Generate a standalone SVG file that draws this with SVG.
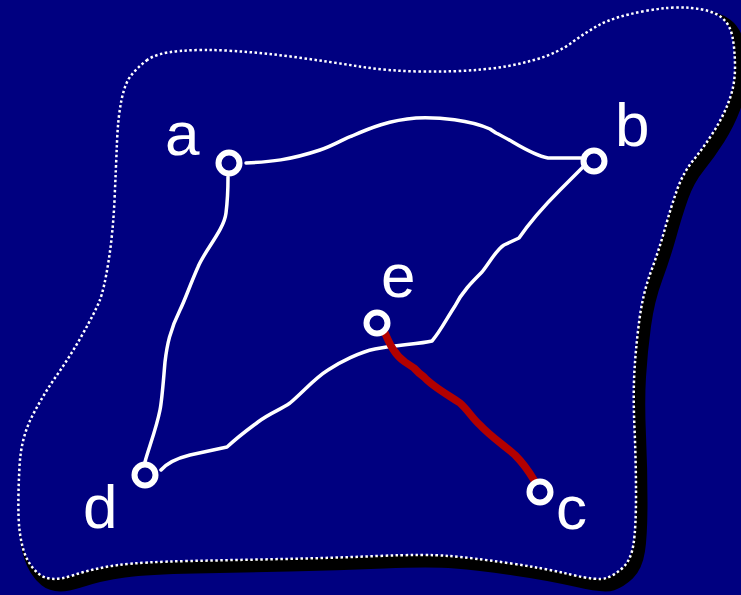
<svg xmlns="http://www.w3.org/2000/svg" width="741" height="595" viewBox="0 0 741 595">
<defs>
<style>
.bg{fill:#000080}
.blob{fill:#000080;stroke:#fff;stroke-width:2.5;stroke-dasharray:2.5 2.5}
.shadow{fill:#000;stroke:#000;stroke-width:11;stroke-linejoin:round}
.edge{fill:none;stroke:#fff;stroke-width:3.5;stroke-linecap:round;stroke-linejoin:round}
.red{fill:none;stroke:#b20000;stroke-width:7.5;stroke-linecap:round;stroke-linejoin:round}
.node{fill:#000080;stroke:#fff;stroke-width:6}
.lbl{font-family:"Liberation Sans",Arial,sans-serif;font-size:62px;fill:#fff}
</style>
<path id="blobpath" d="M146.5,60.5 Q156,53 179.5,51 Q203,49 234,51 Q265,53 298,57.5 Q331,62 359.5,66.5 Q388,71 421,71.5 Q454,72 482,69.5 Q510,67 534,60 Q558,53 572,42.5 Q586,32 600,24.5 Q614,17 642.5,11.5 Q671,6 691.5,8 Q712,10 721,17 Q730,24 732.5,37 Q735,50 735,67.5 Q735,85 729,101 Q723,117 713.5,132 Q704,147 693.5,160 Q683,173 677,190 Q671,207 665,228.5 Q659,250 651,271.5 Q643,293 639.5,319 Q636,345 634.5,370 Q633,395 634.5,428.5 Q636,462 636,495 Q636,528 633.5,544 Q631,560 623,567.5 Q615,575 606.5,578 Q598,581 570.5,574.5 Q543,568 508,563 Q473,558 449,556 Q425,554 378,556 Q331,558 283.5,559 Q236,560 189,561 Q142,562 118.5,565 Q95,568 72.5,575.5 Q50,583 39,574 Q28,565 23.5,550 Q19,535 18.5,515 Q18,495 19.5,466.5 Q21,438 32,416.5 Q43,395 57,375 Q71,355 83,333.5 Q95,312 99.5,301 Q104,290 108.5,261.5 Q113,233 114.5,200 Q116,167 117,142 Q118,117 121.5,100 Q125,83 131,75.5 Q137,68 146.5,60.5 Z"/>
</defs>
<rect class="bg" x="0" y="0" width="741" height="595"/>
<g id="region">
<use href="#blobpath" class="shadow" transform="translate(6,7)"/>
<use href="#blobpath" class="blob"/>
</g>
<g id="connectors">
<path id="a-b" class="edge" d="M246,163 C270,162 290,160 320,150 C335,145 345,138 352,136 C370,128 390,120 416,118 C440,117 470,120 490,129 L496,133 C510,139 530,155 548,158 L581,158"/>
<path id="a-d" class="edge" d="M228,177 C228,195 227,205 226,213 C224,230 205,250 198,267 C190,285 185,300 180,310 C170,330 167,345 165,362 C163,385 162,400 160,410 C156,430 148,450 145,462"/>
<path id="d-b" class="edge" d="M161,470 C168,462 178,458 190,455 L227,447 C240,435 250,428 258,422 C270,413 280,410 290,403 C305,390 315,378 328,370 C340,362 360,352 375,349 C395,345 420,344 432,341 C440,332 447,318 455,306 C462,292 472,282 482,272 C490,262 496,250 504,245 L519,238 C530,222 545,205 560,190 C570,180 578,172 584,166"/>
<path id="e-c" class="red" d="M385,333 C390,345 395,355 405,362 L414,368 L419,373 L424,377 C432,386 445,393 460,403 C468,410 472,418 480,425 C490,436 505,446 515,455 C522,462 528,470 534,480"/>
</g>
<g id="node-a"><circle class="node" cx="229" cy="163" r="10.5"/><text class="lbl" x="165" y="155">a</text></g>
<g id="node-b"><circle class="node" cx="594" cy="161" r="10.5"/><text class="lbl" x="615" y="146">b</text></g>
<g id="node-e"><circle class="node" cx="377" cy="323" r="10.5"/><text class="lbl" x="381" y="297">e</text></g>
<g id="node-d"><circle class="node" cx="145" cy="475" r="10.5"/><text class="lbl" x="83" y="528">d</text></g>
<g id="node-c"><circle class="node" cx="540" cy="492" r="10.5"/><text class="lbl" x="556" y="529">c</text></g>
</svg>
